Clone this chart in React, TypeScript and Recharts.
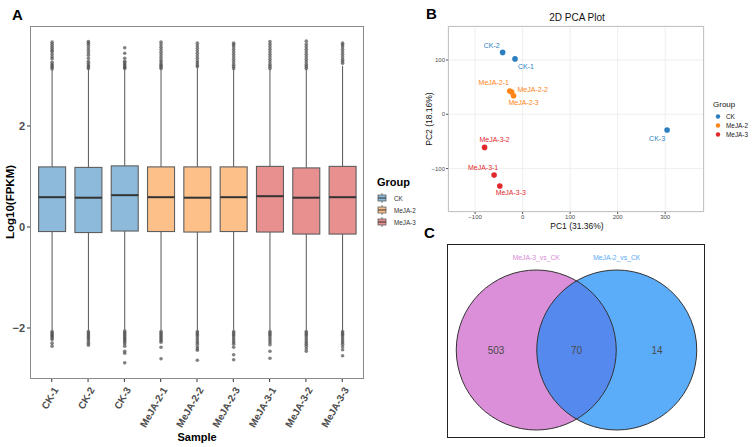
import React from "react";
import { ComposedChart, Bar, XAxis, YAxis, ScatterChart, Scatter, CartesianGrid } from "recharts";

const FONT = "'Liberation Sans', Arial, sans-serif";

// ---- A: expression distribution per sample ----
const samples = ["CK-1", "CK-2", "CK-3", "MeJA-2-1", "MeJA-2-2", "MeJA-2-3", "MeJA-3-1", "MeJA-3-2", "MeJA-3-3"];
const sampleGroup = ["CK", "CK", "CK", "MeJA-2", "MeJA-2", "MeJA-2", "MeJA-3", "MeJA-3", "MeJA-3"];
const groups = ["CK", "MeJA-2", "MeJA-3"];

const lowerWhisker = [-2.05, -2.05, -2.04, -2.05, -2.05, -2.04, -2.05, -2.05, -2.05];
const q1 = [-0.09, -0.11, -0.08, -0.09, -0.1, -0.09, -0.1, -0.14, -0.14];
const median = [0.59, 0.58, 0.63, 0.59, 0.58, 0.59, 0.61, 0.58, 0.59];
const q3 = [1.19, 1.18, 1.21, 1.19, 1.19, 1.19, 1.2, 1.17, 1.2];
const upperWhisker = [3.11, 3.13, 3.12, 3.13, 3.16, 3.13, 3.13, 3.13, 3.19];

const upperOutliers = [
  [3.13, 3.16, 3.19, 3.22, 3.26, 3.33, 3.37, 3.42, 3.47, 3.5, 3.54, 3.58, 3.62, 3.66],
  [3.14, 3.17, 3.2, 3.24, 3.28, 3.34, 3.4, 3.45, 3.5, 3.55, 3.6, 3.64, 3.67],
  [3.14, 3.16, 3.19, 3.22, 3.25, 3.28, 3.34, 3.44, 3.55],
  [3.14, 3.17, 3.2, 3.23, 3.27, 3.31, 3.36, 3.41, 3.46, 3.51, 3.56, 3.61, 3.66],
  [3.18, 3.21, 3.25, 3.29, 3.34, 3.39, 3.44, 3.49, 3.54, 3.59, 3.64],
  [3.14, 3.18, 3.22, 3.27, 3.32, 3.37, 3.42, 3.47, 3.52, 3.57, 3.61, 3.64],
  [3.14, 3.18, 3.22, 3.27, 3.32, 3.37, 3.42, 3.47, 3.52, 3.57, 3.62, 3.67],
  [3.14, 3.18, 3.22, 3.27, 3.32, 3.37, 3.42, 3.47, 3.52, 3.57, 3.62, 3.68],
  [3.24, 3.28, 3.32, 3.37, 3.42, 3.47, 3.52, 3.57, 3.61, 3.64],
];
const lowerOutliers = [
  [-2.07, -2.1, -2.12, -2.15, -2.17, -2.2, -2.23, -2.3, -2.36],
  [-2.07, -2.1, -2.13, -2.16, -2.19, -2.22, -2.26, -2.3, -2.34],
  [-2.06, -2.09, -2.12, -2.15, -2.18, -2.21, -2.24, -2.27, -2.31, -2.36, -2.46, -2.5, -2.69],
  [-2.07, -2.1, -2.13, -2.16, -2.19, -2.22, -2.25, -2.28, -2.38, -2.61],
  [-2.07, -2.1, -2.13, -2.16, -2.2, -2.24, -2.28, -2.32, -2.37, -2.41, -2.44, -2.64],
  [-2.07, -2.1, -2.13, -2.16, -2.2, -2.24, -2.28, -2.32, -2.38, -2.53, -2.63],
  [-2.07, -2.1, -2.13, -2.16, -2.2, -2.24, -2.28, -2.33, -2.46, -2.6],
  [-2.07, -2.1, -2.13, -2.16, -2.2, -2.24, -2.28, -2.32, -2.36, -2.41, -2.46],
  [-2.07, -2.1, -2.13, -2.16, -2.2, -2.24, -2.28, -2.32, -2.37, -2.43, -2.55],
];

const yTicksA = [-2, 0, 2];
const groupFill: Record<string, string> = { CK: "#8DBADB", "MeJA-2": "#FDC089", "MeJA-3": "#E88F8F" };

const boxRows = samples.map((s, i) => ({
  sample: s,
  group: sampleGroup[i],
  lowerWhisker: lowerWhisker[i],
  q1: q1[i],
  median: median[i],
  q3: q3[i],
  upperWhisker: upperWhisker[i],
  upperOutliers: upperOutliers[i],
  lowerOutliers: lowerOutliers[i],
}));

// ---- B: PCA ----
const pc1 = [-16, -42, 304, -27, -23, -19, -60, -80, -48];
const pc2 = [102, 114, -29, 43, 41, 34, -112, -61, -132];
const xTicksB = [-100, 0, 100, 200, 300];
const yTicksB = [-100, 0, 100];
const pcaColor: Record<string, string> = { CK: "#2B7FC1", "MeJA-2": "#FF8516", "MeJA-3": "#E2282C" };

const pcaRows = samples.map((s, i) => ({ sample: s, group: sampleGroup[i], pc1: pc1[i], pc2: pc2[i] }));

// repel-style label offsets (px) relative to each point
const labelNudge: Record<string, [number, number]> = {
  "CK-1": [11, 8],
  "CK-2": [-11, -7],
  "CK-3": [-10, 8],
  "MeJA-2-1": [-16, -8],
  "MeJA-2-2": [21, -3],
  "MeJA-2-3": [10, 7],
  "MeJA-3-1": [-11, -8],
  "MeJA-3-2": [10, -8],
  "MeJA-3-3": [11, 7],
};

// ---- C: Venn ----
const vennSets = ["MeJA-3_vs_CK", "MeJA-2_vs_CK"];
const vennRegions = ["MeJA-3_vs_CK only", "shared", "MeJA-2_vs_CK only"];
const vennCounts = [503, 70, 14];
const vennRows = vennRegions.map((r, i) => ({ region: r, count: vennCounts[i] }));

const VENN_R = 80;
const VENN_GAP = 80.5;

const BoxShape = (props: any) => {
  const { x, y, width, height, payload } = props;
  const top = Math.min(y, y + height);
  const bottom = Math.max(y, y + height);
  const lo = payload.lowerWhisker;
  const hi = payload.upperWhisker;
  const toY = (v: number) => bottom - ((v - lo) / (hi - lo)) * (bottom - top);
  const cx = x + width / 2;
  const yq1 = toY(payload.q1);
  const yq3 = toY(payload.q3);
  const ymed = toY(payload.median);
  return (
    <g>
      <line x1={cx} x2={cx} y1={top} y2={yq3} stroke="#555" strokeWidth={1} />
      <line x1={cx} x2={cx} y1={yq1} y2={bottom} stroke="#555" strokeWidth={1} />
      {[...payload.upperOutliers, ...payload.lowerOutliers].map((v: number, k: number) => (
        <circle key={k} cx={cx} cy={toY(v)} r={1.8} fill="#4D4D4D" fillOpacity={0.7} />
      ))}
      <rect x={x} y={yq3} width={width} height={yq1 - yq3} fill={groupFill[payload.group]} stroke="#5E5E5E" strokeWidth={1.1} />
      <line x1={x} x2={x + width} y1={ymed} y2={ymed} stroke="#333" strokeWidth={2} />
    </g>
  );
};

const SampleTick = ({ x, y, payload }: any) => (
  <text
    x={x + 4}
    y={y + 4}
    transform={`rotate(-60 ${x + 4} ${y + 4})`}
    textAnchor="end"
    dominantBaseline="central"
    fontSize={10}
    fontWeight="bold"
    fill="#4D4D4D"
    fontFamily={FONT}
  >
    {payload.value}
  </text>
);

const fmtMinus = (v: number) => (v < 0 ? `\u2212${Math.abs(v)}` : `${v}`);

const pcaShape = (color: string) => (props: any) => {
  const { cx, cy, payload } = props;
  const [dx, dy] = labelNudge[payload.sample] || [0, -8];
  return (
    <g>
      <circle cx={cx} cy={cy} r={2.8} fill={color} />
      <text x={cx + dx} y={cy + dy} textAnchor="middle" dominantBaseline="central" fontSize={7} fill={color} fontFamily={FONT}>
        {payload.sample}
      </text>
    </g>
  );
};

const VennShape = (props: any) => {
  const { cx, cy, payload } = props;
  if (payload.region !== "shared") return <g />;
  const lx = cx - VENN_GAP / 2;
  const rx = cx + VENN_GAP / 2;
  const h = Math.sqrt(VENN_R * VENN_R - (VENN_GAP / 2) * (VENN_GAP / 2));
  const lens = `M ${cx} ${cy - h} A ${VENN_R} ${VENN_R} 0 0 1 ${cx} ${cy + h} A ${VENN_R} ${VENN_R} 0 0 1 ${cx} ${cy - h} Z`;
  return (
    <g>
      <circle cx={lx} cy={cy} r={VENN_R} fill="#DA8FD8" />
      <circle cx={rx} cy={cy} r={VENN_R} fill="#5BADFA" />
      <path d={lens} fill="#5589EE" />
      <circle cx={lx} cy={cy} r={VENN_R} fill="none" stroke="#333" strokeWidth={1} />
      <circle cx={rx} cy={cy} r={VENN_R} fill="none" stroke="#333" strokeWidth={1} />
      <text x={lx} y={cy - 93} textAnchor="middle" dominantBaseline="central" fontSize={6.8} fill="#D88AD6" fontFamily={FONT}>
        {vennSets[0]}
      </text>
      <text x={rx} y={cy - 93} textAnchor="middle" dominantBaseline="central" fontSize={6.8} fill="#58A9F5" fontFamily={FONT}>
        {vennSets[1]}
      </text>
    </g>
  );
};

const CountShape = (props: any) => {
  const { cx, cy, payload } = props;
  return (
    <text x={cx} y={cy} textAnchor="middle" dominantBaseline="central" fontSize={10} fill="#4A4A4A" fontFamily={FONT}>
      {payload.count}
    </text>
  );
};

const LegendBoxKey = ({ x, y, fill }: { x: number; y: number; fill: string }) => (
  <g>
    <line x1={x + 4} x2={x + 4} y1={y - 5} y2={y + 5} stroke="#555" strokeWidth={0.8} />
    <rect x={x} y={y - 3} width={8} height={6} fill={fill} stroke="#5E5E5E" strokeWidth={0.8} />
    <line x1={x} x2={x + 8} y1={y} y2={y} stroke="#333" strokeWidth={1} />
  </g>
);

export default function App() {
  return (
    <div style={{ position: "absolute", left: 0, top: 0, width: 753, height: 447, background: "#fff", fontFamily: FONT, overflow: "hidden" }}>
      {/* A: box plots */}
      <div style={{ position: "absolute", left: 0, top: 0 }}>
        <ComposedChart width={372} height={447} data={boxRows} margin={{ top: 26, right: 8, bottom: 8, left: 8 }}>
          <XAxis
            dataKey="sample"
            type="category"
            interval={0}
            height={60}
            padding={{ left: 3.6, right: 3.6 }}
            axisLine={false}
            tickSize={3}
            tickLine={{ stroke: "#333" }}
            tick={<SampleTick />}
          />
          <YAxis
            type="number"
            width={22}
            domain={[-3.01, 3.98]}
            ticks={yTicksA}
            allowDataOverflow
            axisLine={false}
            tickSize={3}
            tickMargin={2}
            tickLine={{ stroke: "#333" }}
            tickFormatter={fmtMinus}
            tick={{ fontSize: 11, fontWeight: "bold", fill: "#4D4D4D", fontFamily: FONT }}
          />
          <Bar dataKey={(d: any) => [d.lowerWhisker, d.upperWhisker]} barSize={27} isAnimationActive={false} shape={<BoxShape />} />
        </ComposedChart>
      </div>
      <div style={{ position: "absolute", left: 30, top: 26, width: 334, height: 353, border: "1px solid #8A8A8A", boxSizing: "border-box", pointerEvents: "none" }} />

      {/* B: PCA scatter */}
      <div style={{ position: "absolute", left: 426, top: 0 }}>
        <ScatterChart width={280} height={226} margin={{ top: 26, right: 2, bottom: 0, left: 0 }}>
          <CartesianGrid stroke="#EBEBEB" strokeWidth={0.8} />
          <XAxis
            type="number"
            dataKey="pc1"
            domain={[-157, 381.7]}
            ticks={xTicksB}
            allowDataOverflow
            height={14}
            axisLine={false}
            tickSize={2}
            tickMargin={1}
            tickLine={{ stroke: "#555" }}
            tickFormatter={fmtMinus}
            tick={{ fontSize: 6, fill: "#4D4D4D", fontFamily: FONT }}
          />
          <YAxis
            type="number"
            dataKey="pc2"
            domain={[-180, 162.6]}
            ticks={yTicksB}
            allowDataOverflow
            width={22}
            axisLine={false}
            tickSize={2}
            tickMargin={1}
            tickLine={{ stroke: "#555" }}
            tickFormatter={fmtMinus}
            tick={{ fontSize: 6, fill: "#4D4D4D", fontFamily: FONT }}
          />
          {groups.map((g) => (
            <Scatter
              key={g}
              name={g}
              data={pcaRows.filter((r) => r.group === g)}
              isAnimationActive={false}
              shape={pcaShape(pcaColor[g])}
            />
          ))}
        </ScatterChart>
      </div>
      <div style={{ position: "absolute", left: 448, top: 26, width: 256, height: 186, border: "1px solid #C4C4C4", boxSizing: "border-box", pointerEvents: "none" }} />

      {/* C: Venn */}
      <div style={{ position: "absolute", left: 447, top: 244 }}>
        <ScatterChart width={258} height={194} margin={{ top: 20, right: 0, bottom: 2, left: 0 }}>
          <XAxis hide type="category" dataKey="region" allowDuplicatedCategory={false} padding={{ left: 8.75, right: 7.75 }} />
          <YAxis hide type="number" domain={[0, 1]} dataKey={() => 0.5} />
          <Scatter data={vennRows} isAnimationActive={false} shape={<VennShape />} />
          <Scatter data={vennRows} isAnimationActive={false} shape={<CountShape />} />
        </ScatterChart>
      </div>
      <div style={{ position: "absolute", left: 447, top: 244, width: 258, height: 194, border: "1.5px solid #222", boxSizing: "border-box", pointerEvents: "none" }} />

      {/* titles, axis names and legends */}
      <svg width={753} height={447} style={{ position: "absolute", left: 0, top: 0, pointerEvents: "none" }} fontFamily={FONT}>
        <text x={12} y={20} fontSize={15} fontWeight="bold" fill="#000">A</text>
        <text x={426} y={19} fontSize={15} fontWeight="bold" fill="#000">B</text>
        <text x={424} y={238} fontSize={15} fontWeight="bold" fill="#000">C</text>

        <text x={197} y={437} textAnchor="middle" dominantBaseline="central" fontSize={11} fontWeight="bold" fill="#000">Sample</text>
        <text x={10} y={202} transform="rotate(-90 10 202)" textAnchor="middle" dominantBaseline="central" fontSize={11.5} fontWeight="bold" fill="#000">
          Log10(FPKM)
        </text>

        <text x={377} y={182} dominantBaseline="central" fontSize={11} fontWeight="bold" fill="#000">Group</text>
        {groups.map((g, i) => (
          <g key={g}>
            <LegendBoxKey x={378} y={198 + i * 12} fill={groupFill[g]} />
            <text x={394} y={198 + i * 12} dominantBaseline="central" fontSize={6.3} fill="#333">{g}</text>
          </g>
        ))}

        <text x={577} y={17} textAnchor="middle" dominantBaseline="central" fontSize={10} fill="#111">2D PCA Plot</text>
        <text x={577} y={226} textAnchor="middle" dominantBaseline="central" fontSize={8.5} fill="#111">PC1 (31.36%)</text>
        <text x={429} y={119} transform="rotate(-90 429 119)" textAnchor="middle" dominantBaseline="central" fontSize={8.5} fill="#111">
          PC2 (18.16%)
        </text>
        <text x={713} y={104} dominantBaseline="central" fontSize={8} fill="#111">Group</text>
        {groups.map((g, i) => (
          <g key={g}>
            <circle cx={718} cy={116.5 + i * 9} r={2.2} fill={pcaColor[g]} />
            <text x={726} y={116.5 + i * 9} dominantBaseline="central" fontSize={6.4} fill="#222">{g}</text>
          </g>
        ))}
      </svg>
    </div>
  );
}
